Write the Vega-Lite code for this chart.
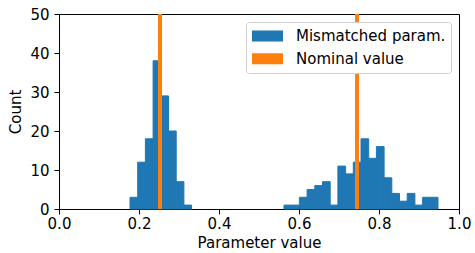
{
  "$schema": "https://vega.github.io/schema/vega-lite/v6.json",
  "width": 400,
  "height": 195,
  "autosize": {"type": "none"},
  "padding": {"left": 59, "top": 14, "right": 16, "bottom": 44},
  "config": {
    "font": "DejaVu Sans",
    "view": {"stroke": "black", "strokeWidth": 1},
    "axis": {
      "grid": false,
      "domainColor": "black",
      "tickColor": "black",
      "tickSize": 5,
      "labelColor": "black",
      "titleColor": "black",
      "labelFontSize": 15,
      "titleFontSize": 15,
      "titleFontWeight": "normal",
      "labelFont": "DejaVu Sans",
      "titleFont": "DejaVu Sans",
      "labelFlush": false
    },
    "legend": {
      "labelFont": "DejaVu Sans",
      "labelFontSize": 15,
      "labelColor": "black",
      "labelLimit": 300
    }
  },
  "datasets": {
    "hist": [
      {"lo": 0.1775, "hi": 0.19675, "count": 3},
      {"lo": 0.19675, "hi": 0.216, "count": 12},
      {"lo": 0.216, "hi": 0.23525, "count": 18},
      {"lo": 0.23525, "hi": 0.2545, "count": 38},
      {"lo": 0.2545, "hi": 0.27375, "count": 29},
      {"lo": 0.27375, "hi": 0.293, "count": 20},
      {"lo": 0.293, "hi": 0.31225, "count": 7},
      {"lo": 0.31225, "hi": 0.3315, "count": 1},
      {"lo": 0.5625, "hi": 0.58175, "count": 1},
      {"lo": 0.58175, "hi": 0.601, "count": 1},
      {"lo": 0.601, "hi": 0.62025, "count": 3},
      {"lo": 0.62025, "hi": 0.6395, "count": 5},
      {"lo": 0.6395, "hi": 0.65875, "count": 6},
      {"lo": 0.65875, "hi": 0.678, "count": 7},
      {"lo": 0.678, "hi": 0.69725, "count": 1},
      {"lo": 0.69725, "hi": 0.7165, "count": 11},
      {"lo": 0.7165, "hi": 0.73575, "count": 9},
      {"lo": 0.73575, "hi": 0.755, "count": 12},
      {"lo": 0.755, "hi": 0.77425, "count": 18},
      {"lo": 0.77425, "hi": 0.7935, "count": 13},
      {"lo": 0.7935, "hi": 0.81275, "count": 16},
      {"lo": 0.81275, "hi": 0.832, "count": 8},
      {"lo": 0.832, "hi": 0.85125, "count": 4},
      {"lo": 0.85125, "hi": 0.8705, "count": 2},
      {"lo": 0.8705, "hi": 0.88975, "count": 4},
      {"lo": 0.88975, "hi": 0.909, "count": 1},
      {"lo": 0.909, "hi": 0.92825, "count": 3},
      {"lo": 0.92825, "hi": 0.9475, "count": 3}
    ],
    "nominal": [
      {"value": 0.2525},
      {"value": 0.745}
    ]
  },
  "layer": [
    {
      "data": {"name": "hist"},
      "mark": {"type": "bar", "fill": "#1f77b4", "stroke": "#1f77b4", "strokeWidth": 1, "fillOpacity": 1},
      "encoding": {
        "x": {
          "field": "lo", "type": "quantitative",
          "scale": {"domain": [0, 1], "nice": false, "zero": false, "padding": 0},
          "axis": {"values": [0, 0.2, 0.4, 0.6, 0.8, 1.0], "format": ".1f", "title": "Parameter value", "labelPadding": 2, "titlePadding": 4}
        },
        "x2": {"field": "hi"},
        "y": {
          "field": "count", "type": "quantitative",
          "scale": {"domain": [0, 50], "nice": false},
          "axis": {"values": [0, 10, 20, 30, 40, 50], "title": "Count", "labelPadding": 5, "titlePadding": 6}
        },
        "y2": {"datum": 0},
        "color": {
          "datum": "Mismatched param.",
          "scale": {"domain": ["Mismatched param.", "Nominal value"], "range": ["#1f77b4", "#ff7f0e"]},
          "legend": {
            "title": null,
            "orient": "top-right",
            "offset": 8,
            "symbolType": "M-1,-0.355L1,-0.355L1,0.355L-1,0.355Z",
            "symbolSize": 961,
            "symbolStrokeWidth": 0,
            "symbolOpacity": 1,
            "symbolOffset": 1,
            "clipHeight": 18,
            "rowPadding": 4.7,
            "labelOffset": 13,
            "padding": 5,
            "strokeColor": "#d0d0d0",
            "fillColor": "white",
            "cornerRadius": 3
          }
        }
      }
    },
    {
      "data": {"name": "nominal"},
      "mark": {"type": "rule", "strokeWidth": 4},
      "encoding": {
        "x": {"field": "value", "type": "quantitative"},
        "color": {"datum": "Nominal value"}
      }
    }
  ]
}
